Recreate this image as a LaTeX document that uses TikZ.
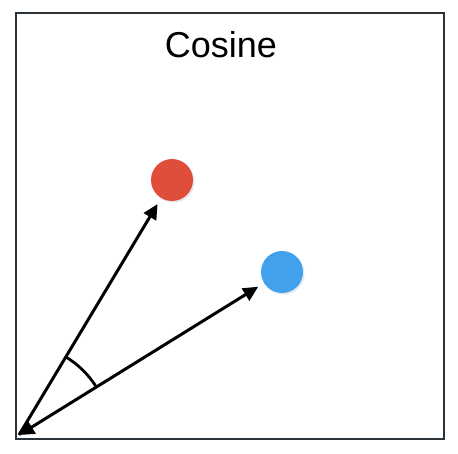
\documentclass[tikz,border=0pt]{standalone}
\usepackage{fontspec}
\setsansfont{Liberation Sans}
\usepackage{xcolor}
\definecolor{framegray}{HTML}{2B3238}
\definecolor{pointred}{HTML}{E04E3B}
\definecolor{pointblue}{HTML}{42A1EC}
\usepackage{tikz}
\usetikzlibrary{arrows.meta,shadows,calc}

\begin{document}
\begin{tikzpicture}[x=1pt, y=1pt,
  point/.style={circle, minimum size=42pt, inner sep=0pt, outer sep=7pt,
                drop shadow={shadow xshift=1.5pt, shadow yshift=-1.5pt, opacity=0.2}},
  vec/.style={-{Triangle[length=15pt,width=14pt]}, line width=3pt}
]
  \useasboundingbox (0,0) rectangle (458,454);

  % Frame and title
  \draw[framegray, line width=2.8pt] (16,15) rectangle (444,441);
  \node[font=\sffamily\fontsize{36}{42}\selectfont] (title) at (221,409) {Cosine};

  % Points
  \coordinate (o) at (19,19);
  \node[point, fill=pointred] (redpt) at (172,274) {};
  \node[point, fill=pointblue] (bluept) at (282,182) {};

  % Vectors
  \draw[vec] (o) -- (redpt);
  \draw[vec, {Triangle[length=15pt,width=15pt]}-{Triangle[length=15pt,width=14pt]}] (o) -- (bluept);

  % Angle
  \draw[line width=2.8pt] ($(o)+(31.6:91)$) arc (31.6:59:91);
\end{tikzpicture}
\end{document}
